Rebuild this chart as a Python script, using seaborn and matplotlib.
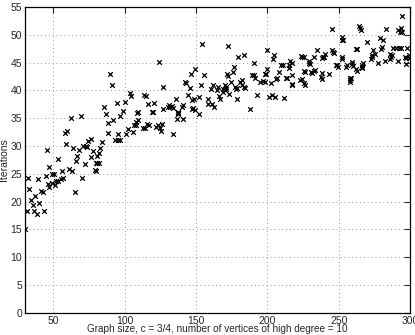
import matplotlib
matplotlib.use("Agg")
import matplotlib.pyplot as plt
import seaborn as sns
import pandas as pd

# scatter points (graph size, iterations)
graph_size = [
    30.3, 31.2, 31.9, 33, 34.2, 35.4, 36.5, 37.2, 38.2, 38.9, 40, 41.6, 42.5, 43.3, 44.7, 45.8, 47, 47,
    48.8, 50.5, 46, 49, 51, 52, 53.5, 55, 56.5, 53.3, 56.3, 58.1, 59.8, 59.1, 60.9, 62, 63.2, 63.9,
    65.1, 65.5, 66.7, 67.9, 69, 69.7, 70.9, 71.8, 72.5, 73.5, 74.4, 76, 76, 77.9, 79, 79.5, 79.9,
    80.6, 80.6, 81.8, 82.3, 82.7, 84.3,
    85.7, 86.9, 88.1, 88.5, 89.7, 90.9, 92, 93.2, 94.4, 95, 96.7, 95.5, 96.7, 98.5, 100.1, 100.6,
    102.5, 104, 104.6, 105.5, 106.6, 107.8, 108, 109.5, 109, 108.5, 113, 114, 113.6, 115, 115.5,
    116.4, 117, 118.9, 120.1, 120.5, 122, 123.5, 124.5, 123.8, 125.7, 126.4, 126.8, 126.8,
    130, 131, 132, 133, 134, 133.8, 135.6, 137, 137.5, 137.2, 136.5, 140.5, 140, 141, 142.3, 143,
    144.2, 145.4, 146.6, 147.5, 148.2, 149, 148.6, 147.5, 149.6, 152.3, 152.4, 153.6, 154.2, 155.9,
    158.2, 158.2, 160.5, 161.4, 162.5, 162.1, 165.4, 165, 166, 167, 168.9, 169, 171, 170.5, 172.1,
    170, 171, 172.6, 172, 173.2, 174.4, 175.6, 176.3, 178, 177, 179, 178.6, 179.5, 181, 182, 183.7,
    183.7, 182.5, 184.5, 187.9, 189, 190.5, 190.7, 191, 193, 194.8, 196.8, 198, 198, 199, 199.5,
    200, 201, 202.3, 203.2, 204.4, 204.2, 205, 206, 206.7, 208, 209.5, 211, 211.6, 213, 214, 215,
    215, 217,
    216, 217, 217.3, 217, 223.6, 224.5, 225.4, 225.5, 226.5, 223, 224.5, 225.5, 226.5, 229, 229.8,
    229.5, 230.5, 231.5, 232.5, 233.5, 232.5, 234.7, 237.3, 238, 238.2, 238, 239, 240, 240.5, 242.9,
    245, 245.8, 246.8, 245.2, 248, 249, 249.6, 252.2, 252.6, 252.6, 253.2, 252.6, 254.8, 255.5,
    258.2, 257.8, 259.3, 259.5,
    260.3, 261.8, 262.8, 258.5, 258, 262.4, 263, 264.5, 265.2, 265.6, 267.2, 266.5, 266.2, 266,
    269.6, 272.6, 273, 273.6, 275.5, 274.2, 277.7, 279.1, 280.8, 279.4, 280.4, 282.4, 283.5, 286,
    286.6, 286.2, 287.4, 288, 290, 292, 293.4, 291.6, 293.6, 292.8, 294.6, 294.4, 291.6, 296.5, 297,
    298, 299, 299.5, 297.4,
]
iterations = [
    15.1, 18.3, 24.3, 22.3, 20.3, 19.4, 18.3, 21, 17.7, 24, 19.7, 21.9, 21.8, 18.3, 24.6, 29.3, 26.3, 22.7,
    25, 25, 23.2, 23.4, 23, 23.8, 23.8, 24, 24.2, 27.6, 25.6, 32.4, 32.7, 30.4, 25.9, 35.1, 25.6, 29.7,
    21.7, 27.3, 28.3, 29.3, 35.4, 24.3, 30.1, 26.7, 30, 29.8, 30.9, 31.3, 28, 29.1, 25.7, 27, 25.5,
    28.3, 26.9, 26.9, 28.8, 29.6, 30.7,
    37.0, 35.8, 34.2, 32.4, 43.0, 41.0, 34.6, 31.1, 37.8, 31.1, 31.1, 32.1, 35.4, 36.3, 37.9, 32.1,
    33, 39.5, 39.0, 32.5, 33.7, 33.7, 34.3, 34.7, 36.2, 36.0, 33.3, 33.2, 39.2, 39.0, 34,
    37.5, 33.8, 36.1, 36.1, 37.8, 33.5, 33.8, 33.2, 45.2, 32.7, 34, 36.6, 40.6,
    37, 37.3, 37, 37.2, 36.9, 32.1, 38.4, 36, 35.8, 36.2, 34.9, 34.9, 37, 37.3, 41.6, 41.4,
    39.2, 40.5, 43, 36.6, 36.8, 36.5, 38.4, 38.3, 43.9, 38.8, 35.8, 41.0, 48.3, 42.8,
    38.5, 37.5, 40.3, 37.5, 37, 41.0, 40.6, 40, 39, 38.5, 40.3, 39.7, 40.6, 40, 42.6,
    40.9, 40.3, 48.0, 43, 39.4, 41.6, 43.3, 44.3, 40.3, 40.7, 40.5, 38.4, 46.1, 41.6, 41.8, 46.4,
    40.7, 41, 40.4, 36.7, 42.7, 42.7, 44.9, 42.2, 39.1, 41.6, 41.7, 41.5, 43, 43, 47.3,
    43.9, 38.9, 41.3, 39.1, 46.4, 45.6, 38.9, 42, 42.2, 43.3, 44.6, 44.6, 38.7, 42.3, 42.3, 44.6,
    44, 41.2,
    45.3, 45, 42.7, 41, 46.2, 46.1, 46.1, 43.5, 43.3, 41.9, 42.1, 41.4, 41, 44.9, 44.7,
    45.3, 43.4, 43.2, 43.5, 43.7, 46.0, 47.3, 42.4, 42, 43.1, 45.8, 46.1, 46.1, 46.6, 42.9,
    47.3, 47.0, 46.8, 51.1, 44.6, 44.6, 44.2, 46.1, 45.6, 49.6, 49.0, 49.0, 44.3, 44.6,
    42.2, 41.6, 45.1, 44.7,
    44.4, 43.8, 43.5, 42.3, 41.9, 47.5, 47.5, 51.6, 51.3, 50.9, 45, 44.6, 44.3, 44,
    48.8, 45.7, 46.4, 46.1, 46.6, 47.3, 44.9, 49.5, 49, 47.5, 47.8, 45.3, 51.1, 46.6,
    46.1, 45.7, 46.4, 47.7, 47.7, 47.7, 47.7, 50.9, 51.3, 50.5, 50.6, 53.4, 45.3, 46.1, 45.9,
    47.7, 46.4, 45.8, 44.8,
]

x_ticks = [50, 100, 150, 200, 250, 300]
y_ticks = [0, 5, 10, 15, 20, 25, 30, 35, 40, 45, 50, 55]

df = pd.DataFrame({"size": graph_size, "iters": iterations})

sns.set_style("white")
plt.rcParams["font.family"] = ["Liberation Sans", "DejaVu Sans"]

fig = plt.figure(figsize=(4.15, 3.35), dpi=100)
ax = fig.add_axes([0.060, 0.066, 0.928, 0.913])

sns.scatterplot(data=df, x="size", y="iters", marker="x", color="black",
                s=11, linewidth=0.9, ax=ax, legend=False)

ax.set_xlim(30, 300)
ax.set_ylim(0, 55)
ax.set_xticks(x_ticks)
ax.set_yticks(y_ticks)
ax.grid(True, linestyle=(0, (1, 3)), color="#999999", linewidth=0.7)
ax.tick_params(direction="in", length=4, width=0.8, labelsize=7.5,
               top=True, right=True, pad=2)
for sp in ax.spines.values():
    sp.set_color("black")
    sp.set_linewidth(0.9)

ax.set_xlabel("Graph size, c = 3/4, number of vertices of high degree = 10",
              fontsize=7.2, labelpad=-1)
ax.set_ylabel("Iterations", fontsize=7.5, labelpad=1)

fig.savefig("out.png", dpi=100)
